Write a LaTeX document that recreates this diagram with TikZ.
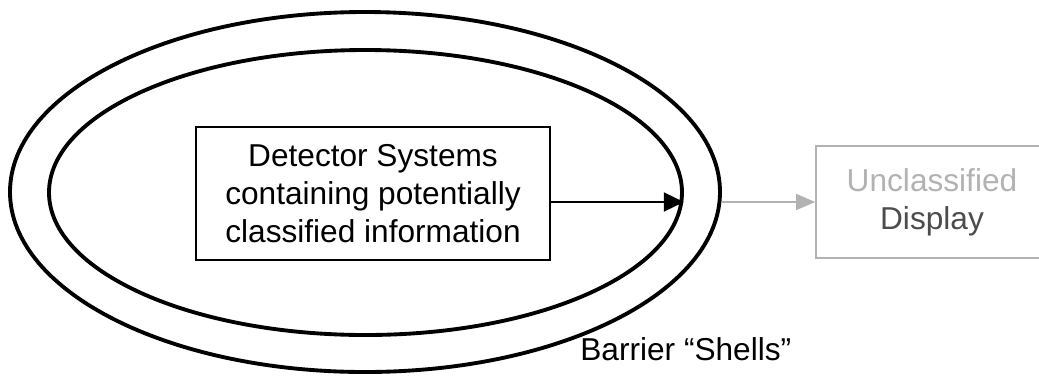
\documentclass[tikz,border=0pt]{standalone}
\usepackage{fontspec}
\setmainfont{Liberation Sans}
\usepackage{tikz}
\usetikzlibrary{positioning}
\usetikzlibrary{calc}
\usetikzlibrary{arrows.meta}
\usetikzlibrary{shapes.geometric}
\definecolor{lightgray}{gray}{0.7}
\definecolor{midgray}{gray}{0.3}

\begin{document}
\begin{tikzpicture}[every node/.style={font=\fontsize{18}{21.5}\selectfont},
    shell/.style={draw, ellipse, line width=2.2pt, inner sep=0pt},
    sysbox/.style={draw, line width=0.9pt, align=center, inner sep=0pt},
    outbox/.style={draw=lightgray, line width=0.9pt, align=center, inner sep=0pt}]
  \useasboundingbox (0, 0) rectangle (20.78, -7.58);

  % barrier shells
  \node[shell, minimum width=14.2cm, minimum height=7.2cm] at (7.30, -3.84) (outer) {};
  \node[shell, minimum width=12.66cm, minimum height=5.7cm] at (7.31, -3.85) (inner) {};

  % boxes
  \node[sysbox, minimum width=7.08cm, minimum height=2.66cm] at (7.46, -3.87) (det)
    {Detector Systems\\ containing potentially\\ classified information};
  \node[outbox, minimum width=4.64cm, minimum height=2.24cm] at (18.64, -4.04) (disp)
    {\textcolor{lightgray}{Unclassified}\\ \textcolor{midgray}{Display}};

  % arrows
  \draw[line width=0.9pt, -{Triangle[length=0.4cm, width=0.38cm]}]
    (det.east |- disp.west) -- (inner.east |- disp.west);
  \draw[lightgray, line width=0.8pt, -{Triangle[length=0.38cm, width=0.32cm, fill=gray!60]}]
    (disp.west -| outer.east) -- (disp.west);

  \node[anchor=base west, inner sep=0pt] at (11.6, -7.2) (barrier) {Barrier ``Shells''};
\end{tikzpicture}
\end{document}
